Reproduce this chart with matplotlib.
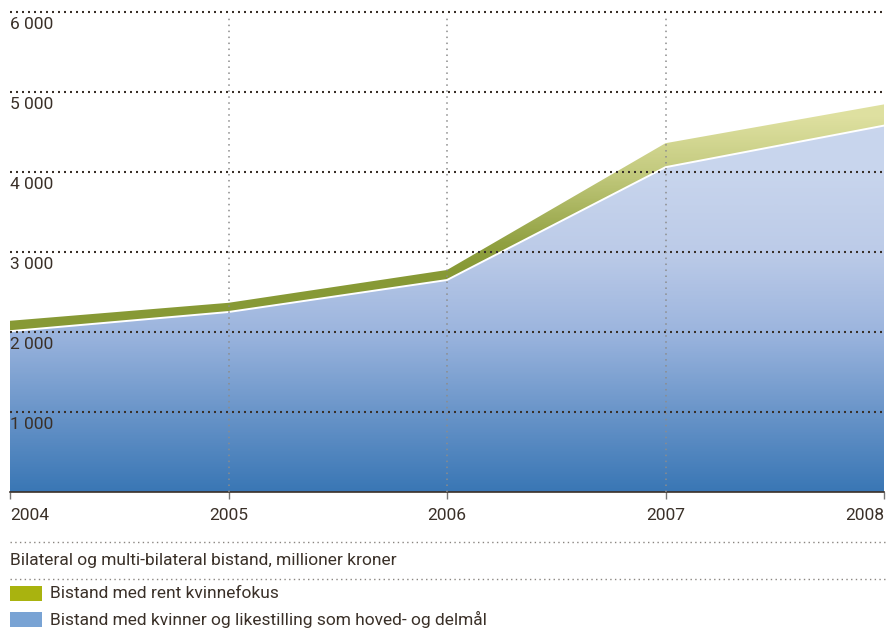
import matplotlib
matplotlib.use("Agg")
import matplotlib.pyplot as plt
import numpy as np
from matplotlib.colors import LinearSegmentedColormap
from matplotlib.patches import Rectangle

years = [2004, 2005, 2006, 2007, 2008]
hoved_delmaal = [2010, 2250, 2650, 4060, 4580]   # blue area
rent_kvinnefokus = [130, 115, 125, 300, 265]      # green band on top
yticks = [1000, 2000, 3000, 4000, 5000, 6000]
ytick_labels = ["1 000", "2 000", "3 000", "4 000", "5 000", "6 000"]
title_text = "Bilateral og multi-bilateral bistand, millioner kroner"
legend_labels = ["Bistand med rent kvinnefokus",
                 "Bistand med kvinner og likestilling som hoved- og delmål"]
legend_colors = ["#a9b30f", "#79a3d4"]

plt.rcParams['font.family'] = ['Roboto', 'DejaVu Sans']
plt.rcParams['lines.scale_dashes'] = False
TXT = "#3a3028"
FS = 12.5

W, H = 886, 628
fig = plt.figure(figsize=(W / 100, H / 100), dpi=100)
ax = fig.add_axes([10 / W, (H - 492) / H, (884 - 10) / W, (492 - 12) / H])
ax.set_xlim(2004, 2008)
ax.set_ylim(0, 6000)

x = np.array(years, dtype=float)
blue = np.array(hoved_delmaal, dtype=float)
total = blue + np.array(rent_kvinnefokus, dtype=float)

# gradients
blue_cmap = LinearSegmentedColormap.from_list("b", [
    (0.0, "#3a77b5"), (1000 / 6000, "#6a95c9"), (2000 / 6000, "#9cb5de"),
    (3000 / 6000, "#bccbe8"), (4000 / 6000, "#c8d5ed"), (1.0, "#ccd8ef")])
green_cmap = LinearSegmentedColormap.from_list("g", [
    (0.0, "#869834"), (2800 / 6000, "#889a36"), (3100 / 6000, "#90a040"),
    (4000 / 6000, "#c3ca7e"), (4700 / 6000, "#dee0a0"), (1.0, "#e0e2a4")])
grad = np.linspace(0, 1, 600).reshape(-1, 1)

pb = ax.fill_between(x, 0, blue, facecolor="none", edgecolor="none")
im = ax.imshow(grad, extent=[2004, 2008, 0, 6000], origin="lower", aspect="auto",
               cmap=blue_cmap, vmin=0, vmax=1, zorder=1)
im.set_clip_path(pb.get_paths()[0], transform=ax.transData)

pg = ax.fill_between(x, blue, total, facecolor="none", edgecolor="none")
im2 = ax.imshow(grad, extent=[2004, 2008, 0, 6000], origin="lower", aspect="auto",
                cmap=green_cmap, vmin=0, vmax=1, zorder=1)
im2.set_clip_path(pg.get_paths()[0], transform=ax.transData)

ax.plot(x, blue, color="white", lw=1.4, zorder=2, solid_joinstyle="miter")
ax.set_xlim(2004, 2008)
ax.set_ylim(0, 6000)

# gridlines
for yv in yticks:
    ax.plot([0, 1.01], [yv, yv], transform=ax.get_yaxis_transform(), color=TXT,
            lw=1.5, linestyle=(0, (1.44, 2.88)), zorder=3, clip_on=False)
for xv in years[1:-1]:
    ax.plot([xv, xv], [0, 5960], color="#8c8c8c", lw=1.1,
            linestyle=(0, (1.1, 3.2)), zorder=3)

for yv, lab in zip(yticks, ytick_labels):
    ax.annotate(lab, (2004, yv), xytext=(0, -3.5), textcoords="offset points",
                ha="left", va="top", fontsize=FS, color=TXT, zorder=4)

for s in ["top", "right", "left"]:
    ax.spines[s].set_visible(False)
ax.spines["bottom"].set_color(TXT)
ax.spines["bottom"].set_linewidth(1.2)
ax.set_yticks([])
ax.set_xticks(years)
ax.set_xticklabels([])
ax.tick_params(axis="x", direction="out", length=5, width=1, color="#777777")

for i, yr in enumerate(years):
    ha = "left" if i == 0 else ("right" if i == len(years) - 1 else "center")
    xp = ax.transData.transform((yr, 0))[0] / W
    fig.text(xp, 1 - 515 / H, str(yr), ha=ha, va="center", fontsize=FS, color=TXT)

# separators
for yp in [542, 579]:
    fig.add_artist(plt.Line2D([10 / W, 1.0], [1 - yp / H, 1 - yp / H], color="#8a8580",
                              lw=1.0, linestyle=(0, (1.0, 2.4))))
fig.text(10 / W, 1 - 560 / H, title_text, ha="left", va="center", fontsize=FS, color=TXT)

for yc, lab, col in zip([593.5, 619.5], legend_labels, legend_colors):
    fig.add_artist(Rectangle((10 / W, 1 - (yc + 7.5) / H), 32 / W, 15 / H,
                             facecolor=col, edgecolor="none", transform=fig.transFigure))
    fig.text(50 / W, 1 - yc / H, lab, ha="left", va="center", fontsize=FS, color=TXT)

fig.savefig("out.png", dpi=100)
